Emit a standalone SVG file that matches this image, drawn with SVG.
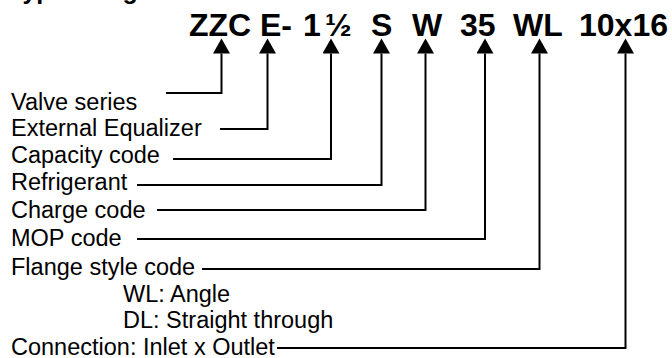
<svg xmlns="http://www.w3.org/2000/svg" width="672" height="358" viewBox="0 0 672 358">
<style>
.code{font-family:"Liberation Sans",Arial,sans-serif;font-weight:bold;font-size:32px;fill:#000}
.title{font-family:"Liberation Sans",Arial,sans-serif;font-weight:bold;font-size:25px;fill:#000}
.lbl{font-family:"Liberation Sans",Arial,sans-serif;font-size:23.5px;fill:#000}
.conn{fill:none;stroke:#000;stroke-width:2;marker-end:url(#ah)}
</style>
<defs>
<marker id="ah" markerUnits="userSpaceOnUse" markerWidth="16" markerHeight="17" refX="0" refY="8.5" orient="auto" viewBox="0 0 16 17">
<path d="M0,0 L15,8.5 L0,17 z" fill="#000"/>
</marker>
</defs>
<rect width="672" height="358" fill="#fff"/>
<text class="title" x="9" y="-1">Type designation</text>
<g id="code">
<text class="code" x="189" y="36">ZZC</text>
<text class="code" x="260" y="36">E-</text>
<text class="code" x="303" y="36">1</text>
<text class="code" x="325" y="36">½</text>
<text class="code" x="371" y="36">S</text>
<text class="code" x="412" y="36">W</text>
<text class="code" x="460" y="36">35</text>
<text class="code" x="513" y="36">WL</text>
<text class="code" x="579" y="36">10x16</text>
</g>
<g id="labels">
<text id="valve" class="lbl" x="11" y="110">Valve series</text>
<text id="equalizer" class="lbl" x="11" y="136">External Equalizer</text>
<text id="capacity" class="lbl" x="11" y="163">Capacity code</text>
<text id="refrigerant" class="lbl" x="11" y="190">Refrigerant</text>
<text id="charge" class="lbl" x="11" y="218">Charge code</text>
<text id="mop" class="lbl" x="11" y="246">MOP code</text>
<text id="flange" class="lbl" x="11" y="275">Flange style code</text>
<text id="wl" class="lbl" x="123" y="302">WL: Angle</text>
<text id="dl" class="lbl" x="123" y="328">DL: Straight through</text>
<text id="connection" class="lbl" x="11" y="355">Connection: Inlet x Outlet</text>
</g>
<g id="connectors">
<polyline class="conn" points="166,93 221.5,93 221.5,53.5"/>
<polyline class="conn" points="220,129 267.5,129 267.5,53.5"/>
<polyline class="conn" points="173,159 331,159 331,53.5"/>
<polyline class="conn" points="137,185 381.5,185 381.5,53.5"/>
<polyline class="conn" points="157,210 425.5,210 425.5,53.5"/>
<polyline class="conn" points="137,239 485,239 485,53.5"/>
<polyline class="conn" points="202,269 539.5,269 539.5,53.5"/>
<polyline class="conn" points="277,348 625.5,348 625.5,53.5"/>
</g>
</svg>
